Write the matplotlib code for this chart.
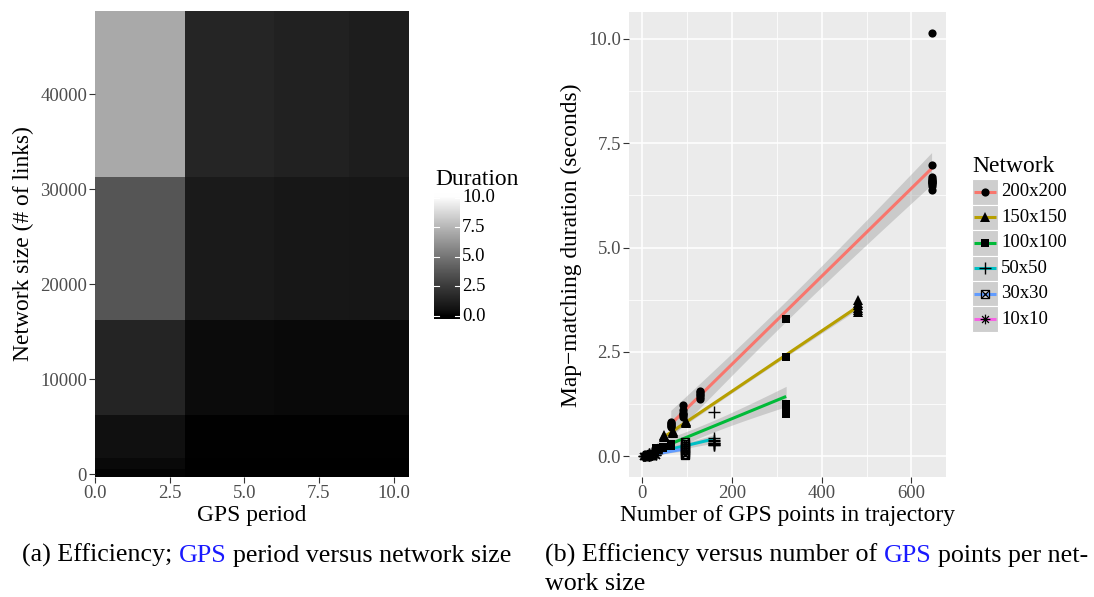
import numpy as np
import matplotlib
matplotlib.use("Agg")
import matplotlib.pyplot as plt
from matplotlib.colors import ListedColormap, Normalize
from matplotlib.path import Path
from matplotlib.patches import Rectangle
from matplotlib.lines import Line2D
from matplotlib.transforms import blended_transform_factory

# ------------------------------------------------------------------ data
# (a) heatmap: duration per GPS period (columns) and network size (rows)
gps_periods = [1, 5, 7, 10]
network_links = [100, 900, 2500, 10000, 22500, 40000]
durations_grid = [
    [0.11, 0.02, 0.02, 0.01],
    [0.28, 0.03, 0.03, 0.03],
    [0.51, 0.08, 0.06, 0.05],
    [1.44, 0.34, 0.28, 0.25],
    [3.66, 0.94, 0.83, 0.73],
    [7.02, 1.49, 1.34, 1.14],
]
duration_limits = [0.005, 10.13]
period_axis_max = 10.5
period_ticks = [0.0, 2.5, 5.0, 7.5, 10.0]
links_ticks = [0, 10000, 20000, 30000, 40000]
duration_ticks = [0.0, 2.5, 5.0, 7.5, 10.0]

# (b) scatter: duration vs number of GPS points, per network size
network_names = ["200x200", "150x150", "100x100", "50x50", "30x30", "10x10"]
network_colors = ["#F8766D", "#B79F00", "#00BA38", "#00BFC4", "#619CFF", "#F564E3"]

x_200 = [645, 645, 645, 645, 645, 645, 645, 645, 645, 645, 645, 645,
         129, 129, 129, 129, 129, 129, 92, 92, 92, 92, 92, 92, 64, 64, 64, 64, 64, 64]
y_200 = [10.13, 6.99, 6.68, 6.64, 6.62, 6.60, 6.58, 6.56, 6.54, 6.52, 6.48, 6.37,
         1.57, 1.53, 1.50, 1.46, 1.42, 1.38, 1.24, 1.12, 1.05, 1.01, 0.98, 0.95,
         0.82, 0.80, 0.77, 0.75, 0.72, 0.70]
x_150 = [482, 482, 482, 482, 482, 482, 97, 97, 97, 69, 69, 69, 48, 48, 48]
y_150 = [3.75, 3.68, 3.62, 3.56, 3.50, 3.46, 0.85, 0.82, 0.80, 0.60, 0.58, 0.56, 0.50, 0.48, 0.46]
x_100 = [321, 321, 321, 321, 321, 321, 321, 321, 321, 321, 321,
         64, 64, 64, 64, 64, 64, 64, 64, 46, 46, 46, 46, 46, 46, 46, 46,
         32, 32, 32, 32, 32, 32, 32, 32]
y_100 = [3.28, 2.37, 1.25, 1.22, 1.18, 1.15, 1.12, 1.10, 1.07, 1.05, 1.02,
         0.30, 0.29, 0.29, 0.28, 0.28, 0.27, 0.27, 0.26, 0.23, 0.22, 0.22, 0.21, 0.21, 0.20, 0.20, 0.19,
         0.21, 0.20, 0.20, 0.19, 0.19, 0.18, 0.18, 0.17]
x_50 = [160, 160, 160, 160, 160, 160, 160, 160, 160, 32, 32, 32, 32, 32,
        23, 23, 23, 23, 23, 16, 16, 16, 16, 16]
y_50 = [1.06, 0.45, 0.40, 0.36, 0.33, 0.31, 0.29, 0.28, 0.27,
        0.11, 0.10, 0.10, 0.09, 0.09, 0.08, 0.07, 0.07, 0.06, 0.06, 0.05, 0.05, 0.04, 0.04, 0.04]
x_30 = [96, 96, 96, 96, 96, 96, 96, 96, 19, 19, 19, 19, 19, 14, 14, 14, 14, 14, 10, 10, 10, 10, 10]
y_30 = [0.34, 0.30, 0.25, 0.20, 0.15, 0.10, 0.06, 0.03,
        0.045, 0.040, 0.040, 0.035, 0.035, 0.032, 0.030, 0.028, 0.026, 0.025,
        0.022, 0.020, 0.020, 0.018, 0.017]
x_10 = [32, 32, 32, 6, 6, 6, 5, 5, 5, 3, 3, 3]
y_10 = [0.032, 0.028, 0.022, 0.012, 0.011, 0.010, 0.010, 0.009, 0.008, 0.007, 0.006, 0.005]

series_x = [x_200, x_150, x_100, x_50, x_30, x_10]
series_y = [y_200, y_150, y_100, y_50, y_30, y_10]
points_ticks = [0, 200, 400, 600]
points_minor = [100, 300, 500]
seconds_ticks = [0.0, 2.5, 5.0, 7.5, 10.0]
seconds_minor = [1.25, 3.75, 6.25, 8.75]

# ------------------------------------------------------------------ figure
W, H, DPI = 1094, 597, 100
SERIF = ["Liberation Serif", "DejaVu Serif"]
plt.rcParams["font.family"] = SERIF
fig = plt.figure(figsize=(W / DPI, H / DPI), dpi=DPI)
fig.patch.set_facecolor("white")
renderer = fig.canvas.get_renderer()

TICK_SIZE = 13.5
TITLE_SIZE = 16.9
TICK_TXT = "#4D4D4D"
TICK_LINE = "#333333"


def fx(px):
    return px / W


def fy(py):
    return 1 - py / H


def add_axes_px(x0, y0, x1, y1):
    return fig.add_axes([x0 / W, 1 - y1 / H, (x1 - x0) / W, (y1 - y0) / H])


def style_ticks(ax):
    for s in ax.spines.values():
        s.set_visible(False)
    ax.tick_params(which="major", direction="out", length=4.2, width=0.8,
                   color=TICK_LINE, labelcolor=TICK_TXT, labelsize=TICK_SIZE, pad=1.5)
    ax.tick_params(which="minor", length=0)


# ---------------------------------------------------------------- (a) heatmap
L = np.linspace(0, 100, 256)
Yl = np.where(L > 8, ((L + 16) / 116) ** 3, L / 903.3)
gv = np.where(Yl <= 0.0031308, 12.92 * Yl, 1.055 * np.power(Yl, 1 / 2.4) - 0.055)
gv = np.clip(gv, 0, 1)
cmap = ListedColormap(np.column_stack([gv, gv, gv]))
norm = Normalize(vmin=duration_limits[0], vmax=duration_limits[1], clip=True)


def edges_from_centers(c):
    c = np.asarray(c, float)
    mid = (c[:-1] + c[1:]) / 2
    return np.concatenate([[c[0] - (mid[0] - c[0])], mid, [c[-1] + (c[-1] - mid[-1])]])


ax1 = add_axes_px(95, 11, 408.5, 477)
xe = edges_from_centers(gps_periods)
ye = edges_from_centers(network_links)
ax1.pcolormesh(xe, ye, np.array(durations_grid), cmap=cmap, norm=norm,
               shading="flat", edgecolors="none", antialiased=False)
ax1.set_xlim(0, period_axis_max)
ax1.set_ylim(ye[0], ye[-1])
ax1.set_xticks(period_ticks)
ax1.set_xticklabels([f"{v:.1f}" for v in period_ticks])
ax1.set_yticks(links_ticks)
ax1.set_yticklabels([str(v) for v in links_ticks])
style_ticks(ax1)

fig.text(fx(251.75), fy(521), "GPS period", fontsize=TITLE_SIZE, ha="center", va="baseline")
fig.text(fx(29), fy(244), "Network size (# of links)", fontsize=TITLE_SIZE,
         rotation=90, rotation_mode="anchor", ha="center", va="baseline")

# colourbar
cax = add_axes_px(434, 193, 460, 319)
rng = duration_limits[1] - duration_limits[0]
lo, hi = duration_limits[0] - rng / 40, duration_limits[1] + rng / 40
grad = np.linspace(lo, hi, 300)[:, None]
cax.imshow(grad, cmap=cmap, norm=norm, origin="lower", extent=[0, 1, lo, hi],
           aspect="auto", interpolation="bilinear")
cax.set_xlim(0, 1)
cax.set_ylim(lo, hi)
cax.axis("off")
btr = blended_transform_factory(cax.transAxes, cax.transData)
for t in duration_ticks:
    cax.plot([0, 0.2], [t, t], color="white", lw=0.8, transform=btr)
    cax.plot([0.8, 1], [t, t], color="white", lw=0.8, transform=btr)
    cax.text(1.08, t, f"{t:.1f}", transform=btr, ha="left", va="center",
             fontsize=TICK_SIZE, color="black", clip_on=False)
fig.text(fx(435), fy(184.5), "Duration", fontsize=TITLE_SIZE, ha="left", va="baseline")

# ---------------------------------------------------------------- (b) scatter
ax2 = add_axes_px(629, 12.3, 946, 477.3)
ax2.set_facecolor("#EBEBEB")


def t975(df):
    z = 1.959964
    g1 = (z ** 3 + z) / 4
    g2 = (5 * z ** 5 + 16 * z ** 3 + 3 * z) / 96
    g3 = (3 * z ** 7 + 19 * z ** 5 + 17 * z ** 3 - 15 * z) / 384
    g4 = (79 * z ** 9 + 776 * z ** 7 + 1482 * z ** 5 - 1920 * z ** 3 - 945 * z) / 92160
    return z + g1 / df + g2 / df ** 2 + g3 / df ** 3 + g4 / df ** 4


fits = []
for xs, ys in zip(series_x, series_y):
    xs = np.asarray(xs, float)
    ys = np.asarray(ys, float)
    b, a = np.polyfit(xs, ys, 1)
    n = len(xs)
    res = ys - (a + b * xs)
    s = np.sqrt(np.sum(res ** 2) / (n - 2))
    xm = xs.mean()
    sxx = np.sum((xs - xm) ** 2)
    xg = np.linspace(xs.min(), xs.max(), 80)
    yg = a + b * xg
    se = s * np.sqrt(1 / n + (xg - xm) ** 2 / sxx)
    tq = t975(n - 2)
    fits.append((xg, yg, yg - tq * se, yg + tq * se))

allx = np.concatenate([np.asarray(v, float) for v in series_x])
ally = np.concatenate([np.asarray(v, float) for v in series_y])
x0, x1 = allx.min(), allx.max()
y0, y1 = ally.min(), ally.max()
ax2.set_xlim(x0 - 0.05 * (x1 - x0), x1 + 0.05 * (x1 - x0))
ax2.set_ylim(y0 - 0.05 * (y1 - y0), y1 + 0.05 * (y1 - y0))

ax2.set_xticks(points_ticks)
ax2.set_xticks(points_minor, minor=True)
ax2.set_xticklabels([str(v) for v in points_ticks])
ax2.set_yticks(seconds_ticks)
ax2.set_yticks(seconds_minor, minor=True)
ax2.set_yticklabels([f"{v:.1f}" for v in seconds_ticks])
style_ticks(ax2)
ax2.set_axisbelow(True)
ax2.grid(which="major", color="white", lw=1.1)
ax2.grid(which="minor", color="white", lw=0.55)

sqx_path = Path([(-1, -1), (1, -1), (1, 1), (-1, 1), (-1, -1), (-1, -1), (1, 1), (-1, 1), (1, -1)],
                [Path.MOVETO, Path.LINETO, Path.LINETO, Path.LINETO, Path.CLOSEPOLY,
                 Path.MOVETO, Path.LINETO, Path.MOVETO, Path.LINETO])
d = 0.7071
ast_path = Path([(-1, 0), (1, 0), (0, -1), (0, 1), (-d, -d), (d, d), (-d, d), (d, -d)],
                [Path.MOVETO, Path.LINETO] * 4)
marker_styles = [
    dict(marker="o", ms=5.9, mfc="black", mec="black", mew=0),
    dict(marker="^", ms=7.0, mfc="black", mec="black", mew=0),
    dict(marker="s", ms=5.6, mfc="black", mec="black", mew=0),
    dict(marker="+", ms=8.0, mfc="none", mec="black", mew=1.0),
    dict(marker=sqx_path, ms=5.8, mfc="none", mec="black", mew=0.9),
    dict(marker=ast_path, ms=7.0, mfc="none", mec="black", mew=0.9),
]

for (xg, yg, ylo, yhi), col in zip(fits, network_colors):
    ax2.fill_between(xg, ylo, yhi, color="#999999", alpha=0.4, lw=0, zorder=2)
    ax2.plot(xg, yg, color=col, lw=2.2, zorder=3, solid_capstyle="butt")
for xs, ys, ms in zip(series_x, series_y, marker_styles):
    ax2.plot(xs, ys, ls="none", zorder=4, **ms)

fig.text(fx(787.5), fy(521), "Number of GPS points in trajectory", fontsize=TITLE_SIZE,
         ha="center", va="baseline")
fig.text(fx(577), fy(244.8), "Map\u2212matching duration (seconds)", fontsize=TITLE_SIZE,
         rotation=90, rotation_mode="anchor", ha="center", va="baseline")

# legend
fig.text(fx(972), fy(172.3), "Network", fontsize=TITLE_SIZE, ha="left", va="baseline")
key_top, key_h, key_x0, key_x1 = 179.3, 25.4, 972, 998
lax = fig.add_axes([0, 0, 1, 1], facecolor="none")
lax.set_xlim(0, W)
lax.set_ylim(H, 0)
lax.axis("off")
for i, (name, col, ms) in enumerate(zip(network_names, network_colors, marker_styles)):
    top = key_top + i * key_h
    lax.add_patch(Rectangle((key_x0, top), key_x1 - key_x0, key_h, facecolor="#CECECE",
                            edgecolor="white", lw=0.8))
    cy = top + key_h / 2
    lax.add_line(Line2D([key_x0 + 2, key_x1 - 2], [cy, cy], color=col, lw=2.2,
                        solid_capstyle="butt"))
    lax.add_line(Line2D([(key_x0 + key_x1) / 2], [cy], ls="none", **ms))
    lax.text(1001, cy, name, fontsize=TICK_SIZE, ha="left", va="center", color="black")

# ---------------------------------------------------------------- captions
BLUE = "#1A1AFF"


def text_width(s, size):
    t = fig.text(0, 0, s, fontsize=size)
    w = t.get_window_extent(renderer).width
    t.remove()
    return w


cap_a = [("(a) Efficiency;", "black"), ("GPS", BLUE), ("period versus network size", "black")]
cap_b1 = [("(b) Efficiency versus number of", "black"), ("GPS", BLUE), ("points per net-", "black")]
cap_b2 = [("work size", "black")]


def full(segs):
    return " ".join(s for s, _ in segs)


size_a = 15 * 497 / text_width(full(cap_a), 15)
size_b = 15 * 541 / text_width(full(cap_b1), 15)
CAP_SIZE = (size_a + size_b) / 2


def draw_segments(segs, x, base_y, size):
    sp = text_width("a a", size) - text_width("aa", size)
    for s, col in segs:
        fig.text(fx(x), fy(base_y), s, fontsize=size, color=col, ha="left", va="baseline")
        x += text_width(s, size) + sp


draw_segments(cap_a, 22, 562, CAP_SIZE)
draw_segments(cap_b1, 545, 562, CAP_SIZE)
draw_segments(cap_b2, 545, 590, CAP_SIZE)

fig.savefig("out.png", dpi=DPI, facecolor="white")
